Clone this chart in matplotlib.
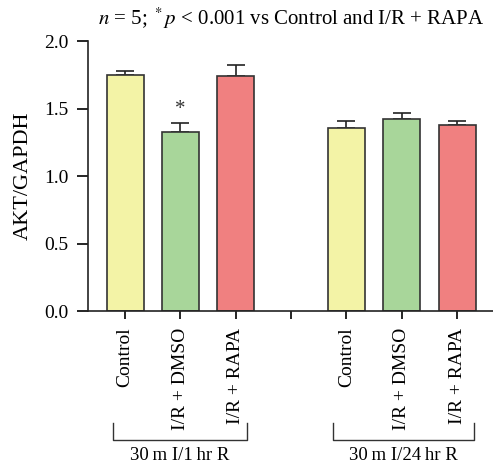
import matplotlib
matplotlib.use("Agg")
from matplotlib import pyplot as plt
from matplotlib import transforms

plt.rcParams['font.family'] = ['Liberation Serif', 'DejaVu Serif']
plt.rcParams['mathtext.fontset'] = 'stix'

# data
labels = ["Control", "I/R + DMSO", "I/R + RAPA",
          "Control", "I/R + DMSO", "I/R + RAPA"]
positions = [0, 1, 2, 4, 5, 6]
means = [1.745, 1.325, 1.74, 1.355, 1.425, 1.375]
errs = [0.03, 0.065, 0.085, 0.05, 0.045, 0.035]
colors = ["#f3f3a6", "#a8d69a", "#f08080"] * 2
groups = ["30\u2009m I/1\u2009hr R", "30\u2009m I/24\u2009hr R"]

fig = plt.figure(figsize=(4.93, 4.66), dpi=100)
ax = fig.add_axes([0.1785, 0.3326, 0.8215, 0.5794])

ax.bar(positions, means, width=0.67, color=colors,
       edgecolor="#333333", linewidth=1.2, zorder=2)
ax.errorbar(positions, means, yerr=[[0] * len(errs), errs], fmt="none",
            ecolor="#222222", elinewidth=1.2, capsize=6.5, capthick=1.2,
            zorder=1)

# significance mark
ax.text(1, means[1] + errs[1] + 0.03, "*", ha="center", va="bottom",
        fontsize=15, color="#333333")

ax.set_xlim(-0.67, 6.65)
ax.set_ylim(0, 2.0)
ax.set_yticks([0.0, 0.5, 1.0, 1.5, 2.0])
ax.set_yticklabels(["0.0", "0.5", "1.0", "1.5", "2.0"], fontsize=14)
ax.set_xticks([0, 1, 2, 3, 4, 5, 6])
ax.set_xticklabels(labels[:3] + [""] + labels[3:], rotation=90, fontsize=14)
ax.set_ylabel("AKT/GAPDH", fontsize=16, labelpad=8)

for s in ["top", "right"]:
    ax.spines[s].set_visible(False)
for s in ["left", "bottom"]:
    ax.spines[s].set_linewidth(1.2)
    ax.spines[s].set_color("#222222")
ax.tick_params(axis="y", length=8, width=1.2, pad=6)
ax.tick_params(axis="x", length=6, width=1.2, pad=6)

# group brackets below the tick labels
trans = transforms.blended_transform_factory(ax.transData, ax.transAxes)
brackets = [(-0.22, 2.2), (3.76, 6.31)]
for (x0, x1), name in zip(brackets, groups):
    ax.plot([x0, x0, x1, x1], [-0.415, -0.478, -0.478, -0.415],
            color="#333333", linewidth=1.0, transform=trans, clip_on=False)
    ax.text((x0 + x1) / 2, -0.503, name, ha="center", va="top",
            fontsize=13.5, transform=trans)

fig.text(0.59, 0.96,
         r"$\mathit{n}$ = 5; $^*\mathit{p}$ < 0.001 vs Control and I/R + RAPA",
         ha="center", va="center", fontsize=15)

fig.savefig("out.png", dpi=100)
